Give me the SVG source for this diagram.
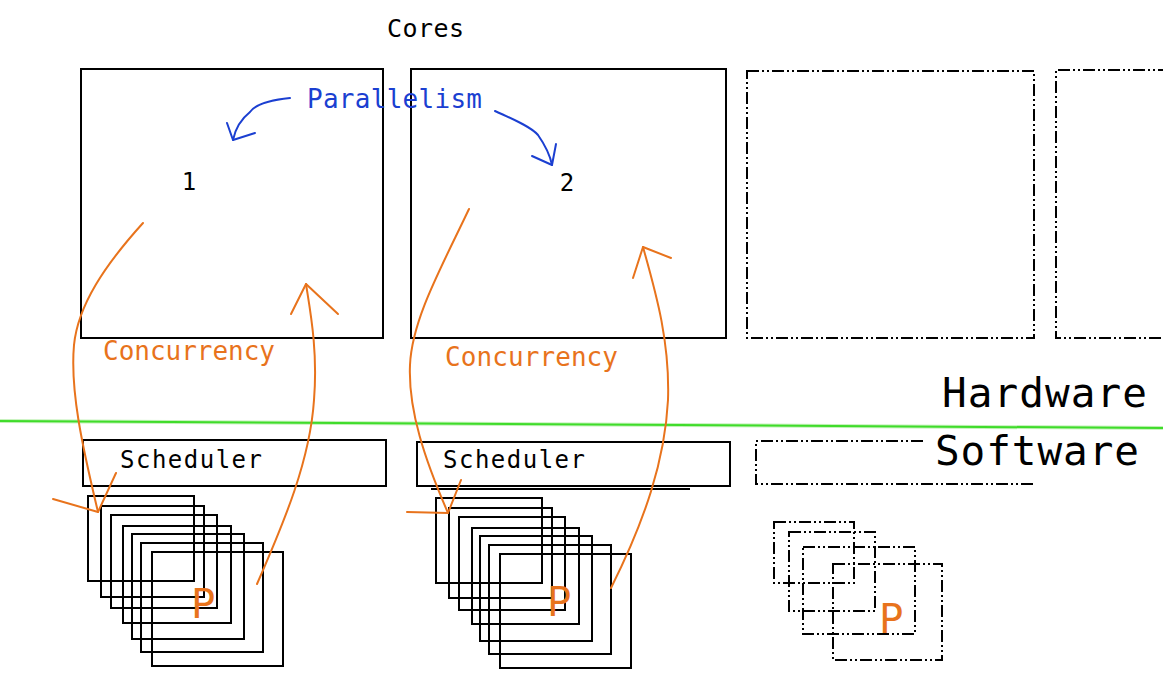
<svg xmlns="http://www.w3.org/2000/svg" width="1163" height="691" viewBox="0 0 1163 691">
<style>
.box{fill:none;stroke:#000;stroke-width:2}
.dash{fill:none;stroke:#000;stroke-width:2;stroke-dasharray:12 3 2 3 2 3}
.t{font-family:"DejaVu Sans Mono","Liberation Mono",monospace;fill:#000}
.or{fill:none;stroke:#e8731c;stroke-width:2;stroke-linecap:round;stroke-linejoin:round}
.bl{fill:none;stroke:#1b3fd1;stroke-width:2;stroke-linecap:round;stroke-linejoin:round}
.ot{fill:#e8731c}
</style>
<rect width="1163" height="691" fill="#fff"/>
<g id="title"><text class="t" x="387" y="37" font-size="25" textLength="77" lengthAdjust="spacing">Cores</text></g>
<g id="core1"><rect class="box" x="81" y="69" width="302" height="269"/><text class="t" x="189" y="190" font-size="24" text-anchor="middle">1</text></g>
<g id="core2"><rect class="box" x="411" y="69" width="315" height="269"/><text class="t" x="567" y="191" font-size="24" text-anchor="middle">2</text></g>
<g id="core3"><rect class="dash" x="747" y="71" width="287" height="267"/></g>
<g id="core4"><path class="dash" d="M1170,70 H1056 V338 H1170"/></g>
<g id="divider">
<line x1="0" y1="421" x2="1163" y2="428" stroke="#c6f2bc" stroke-width="4"/>
<line x1="0" y1="421" x2="1163" y2="428" stroke="#3fdc2a" stroke-width="2"/>
</g>
<g id="hardware"><text class="t" x="942" y="407" font-size="41" textLength="205" lengthAdjust="spacing">Hardware</text></g>
<g id="software"><text class="t" x="935" y="465" font-size="41" textLength="204" lengthAdjust="spacing">Software</text></g>
<g id="scheduler1"><rect class="box" x="83" y="440" width="303" height="46"/><text class="t" x="120" y="468" font-size="24" textLength="142" lengthAdjust="spacing">Scheduler</text></g>
<g id="scheduler2"><rect class="box" x="417" y="442" width="313" height="44"/><line class="box" x1="431" y1="489" x2="690" y2="489"/><text class="t" x="443" y="468" font-size="24" textLength="142" lengthAdjust="spacing">Scheduler</text></g>
<g id="scheduler3"><path class="dash" d="M923,441 H756 V484 H1033"/></g>
<g id="procs1">
<rect class="box" x="88" y="496" width="106" height="85"/>
<rect class="box" x="101" y="506" width="103" height="91"/>
<rect class="box" x="111" y="515" width="106" height="93"/>
<rect class="box" x="123" y="526" width="108" height="97"/>
<rect class="box" x="132" y="534" width="112" height="105"/>
<rect class="box" x="141" y="543" width="122" height="109"/>
<rect class="box" x="152" y="552" width="131" height="114"/>
<text class="ot" x="203" y="618" font-size="40" font-family="DejaVu Sans,Liberation Sans,sans-serif" text-anchor="middle">P</text>
</g>
<g id="procs2">
<rect class="box" x="436" y="498" width="106" height="85"/>
<rect class="box" x="449" y="508" width="103" height="90"/>
<rect class="box" x="459" y="517" width="106" height="93"/>
<rect class="box" x="472" y="528" width="107" height="96"/>
<rect class="box" x="480" y="536" width="112" height="105"/>
<rect class="box" x="489" y="545" width="122" height="109"/>
<rect class="box" x="500" y="554" width="131" height="114"/>
<text class="ot" x="559" y="616" font-size="40" font-family="DejaVu Sans,Liberation Sans,sans-serif" text-anchor="middle">P</text>
</g>
<g id="procs3">
<rect class="dash" x="774" y="522" width="80" height="61"/>
<rect class="dash" x="789" y="532" width="86" height="79"/>
<rect class="dash" x="803" y="547" width="112" height="87"/>
<rect class="dash" x="833" y="564" width="109" height="96"/>
<text class="ot" x="891" y="633" font-size="40" font-family="DejaVu Sans,Liberation Sans,sans-serif" text-anchor="middle">P</text>
</g>
<g id="connectors">
<path class="bl" d="M290,98 C270,100 255,105 250,112 C240,120 235,130 233,140"/>
<path class="bl" d="M227,123 L233,140 L255,133"/>
<path class="bl" d="M495,111 C510,118 530,126 538,135 C545,145 550,155 552,165"/>
<path class="bl" d="M532,156 L552,165 L556,144"/>
<path class="or" d="M143,223 C105,265 78,305 74,345 C70,390 82,445 98,512"/>
<path class="or" d="M53,499 L98,512 L116,473"/>
<path class="or" d="M257,584 C285,520 310,460 314,400 C318,350 310,310 306,284"/>
<path class="or" d="M291,314 L306,284 L338,314"/>
<path class="or" d="M469,209 C440,270 412,320 410,365 C408,410 425,460 448,513"/>
<path class="or" d="M407,512 L448,513 L461,480"/>
<path class="or" d="M611,588 C645,520 665,460 668,400 C670,340 655,290 643,247"/>
<path class="or" d="M633,278 L643,247 L671,258"/>
</g>
<g id="labels">
<text class="t" x="307" y="108" font-size="26" style="fill:#1b3fd1" textLength="175" lengthAdjust="spacing">Parallelism</text>
<text class="t" x="103" y="360" font-size="26" style="fill:#e8731c" textLength="172" lengthAdjust="spacing">Concurrency</text>
<text class="t" x="445" y="366" font-size="26" style="fill:#e8731c" textLength="173" lengthAdjust="spacing">Concurrency</text>
</g>
</svg>
